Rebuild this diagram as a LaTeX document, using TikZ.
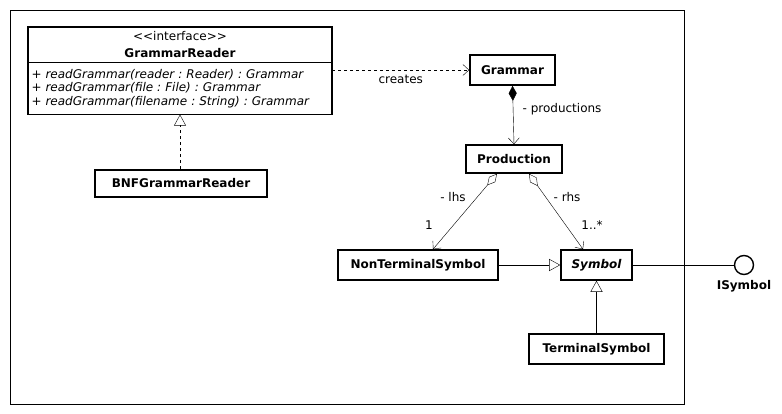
\documentclass[tikz,border=0pt]{standalone}
\usepackage{fontspec}
\setmainfont{DejaVu Sans}
\usetikzlibrary{arrows.meta,positioning,calc}
\newcommand{\umlfont}{\fontsize{12}{13.5}\selectfont\frenchspacing\lineskiplimit=-6pt\relax}
\tikzset{
  cls/.style={draw,line width=1.6pt,inner sep=2pt,font=\umlfont\bfseries},
  lbl/.style={font=\umlfont},
  nav/.style={-{Straight Barb[length=6pt,width=11pt]}},
  inherit/.style={-{Triangle[open,length=11pt,width=12pt]}},
}
\begin{document}
\begin{tikzpicture}[x=1pt,y=-1pt]
\useasboundingbox (0,0) rectangle (782,414);
\draw (10,10) rectangle (684,404);
\node[lbl,minimum width=304pt,minimum height=35pt,align=center] (GRhead) at (180,44.5) {<\kern0pt<interface>\kern0pt>\\[3pt]\textbf{GrammarReader}};
\node[lbl,minimum width=304pt,minimum height=52pt,anchor=north,inner xsep=3pt,text width=297pt,align=left] (GRbody) at (GRhead.south) {+ \textit{readGrammar(reader : Reader) : Grammar}\\+ \textit{readGrammar(file : File) : Grammar}\\+ \textit{readGrammar(filename : String) : Grammar}};
\draw[line width=1.6pt] (GRhead.north west) rectangle (GRbody.south east);
\draw[line width=1.2pt] (GRhead.south west) -- (GRhead.south east);
\node[cls,minimum width=172pt,minimum height=27pt] (BNF) at (181,183.5) {BNFGrammarReader};
\node[cls,minimum width=85pt,minimum height=30pt] (Grammar) at (512.5,70) {Grammar};
\node[cls,minimum width=96pt,minimum height=28pt] (Production) at (514,159) {Production};
\node[cls,minimum width=160pt,minimum height=30pt] (NTS) at (418,265) {NonTerminalSymbol};
\node[cls,minimum width=71pt,minimum height=30pt] (Symbol) at (596.5,265) {\itshape Symbol};
\node[cls,minimum width=135pt,minimum height=30pt] (TS) at (596.5,349) {TerminalSymbol};
\node[draw,line width=1.4pt,circle,minimum size=19pt,inner sep=0pt] (ISym) at (744,265) {};
\node[cls,draw=none,inner sep=0pt,below=4pt of ISym] (ISymlbl) {ISymbol};
\draw[dashed,nav] (Grammar.west -| GRbody.east) -- (Grammar.west) node[lbl,midway,below=2pt] {creates};
\draw[dashed,inherit] (BNF.north -| GRbody.south) -- (GRbody.south);
\draw[{Diamond[length=15pt,width=8pt]}-{Straight Barb[length=6pt,width=11pt]}] (Grammar.south) -- (Production.north) node[lbl,pos=0.4,right=6pt] {- productions};
\draw[{Diamond[open,length=15pt,width=8pt]}-{Straight Barb[length=6pt,width=11pt]}] ($(Production.south)+(-17,0)$) -- ($(NTS.north)+(15,0)$);
\draw[{Diamond[open,length=15pt,width=8pt]}-{Straight Barb[length=6pt,width=11pt]}] ($(Production.south)+(15,0)$) -- ($(Symbol.north)+(-13.5,0)$);
\node[lbl] (lhs) at (453,197) {- lhs};
\node[lbl] (lhsmult) at (429,225) {1};
\node[lbl] (rhs) at (567,197) {- rhs};
\node[lbl] (rhsmult) at (592,225) {1..*};
\draw[inherit] (NTS.east) -- (Symbol.west);
\draw[inherit] (TS.north) -- (Symbol.south);
\draw (Symbol.east) -- (ISym.west);
\end{tikzpicture}
\end{document}
